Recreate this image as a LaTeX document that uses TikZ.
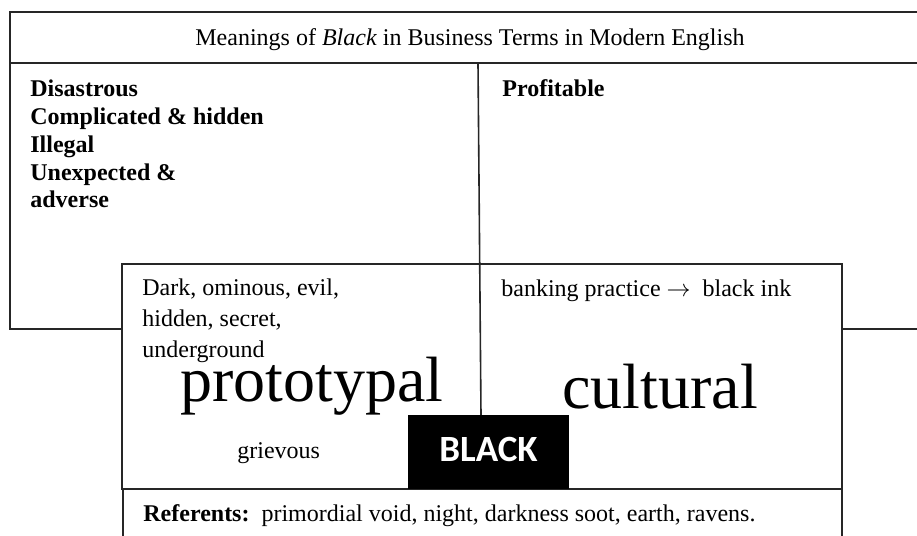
\documentclass[tikz,border=0pt]{standalone}
\usepackage{fontspec}
\setmainfont{Liberation Serif}
\newfontfamily\blackfont{Carlito}
\begin{document}
\begin{tikzpicture}[x=0.5pt,y=-0.5pt,
  frame/.style={draw=black!85, line width=0.8pt},
  txt/.style={inner sep=0pt, anchor=base west, font=\fontsize{12}{14}\selectfont},
  bld/.style={inner sep=0pt, anchor=base west, font=\fontsize{12}{14}\selectfont\bfseries},
  big/.style={inner sep=0pt, anchor=base west, font=\fontsize{32}{36}\selectfont},
  blk/.style={inner sep=0pt, anchor=base, text=white, font=\fontsize{18.5}{20}\selectfont\blackfont\bfseries}]
\useasboundingbox (0,0) rectangle (917,536);
\clip (0,0) rectangle (917,536);
% coordinates
\coordinate (otl) at (10,12);
\coordinate (otr) at (930,12);
\coordinate (ohl) at (10,63);
\coordinate (ohr) at (930,63);
\coordinate (obl) at (10,329);
\coordinate (obm) at (122,329);
\coordinate (obr1) at (842,329);
\coordinate (obr2) at (930,329);
\coordinate (dvt) at (478,63);
\coordinate (dvb) at (481,415);
\coordinate (itl) at (122,264);
\coordinate (itr) at (842,264);
\coordinate (ibl) at (122,489);
\coordinate (ibr) at (842,489);
\coordinate (rbl) at (123,545);
\coordinate (rtl) at (123,489);
\coordinate (rbr) at (842,545);
% outer box
\draw[frame] (otr) -- (otl) -- (obl) -- (obm);
\draw[frame] (ohl) -- (ohr);
\draw[frame] (obr1) -- (obr2);
\draw[frame] (dvt) -- (dvb);
% inner box
\draw[frame] (ibl) -- (itl) -- (itr) -- (ibr) -- cycle;
% referents box
\draw[frame] (rtl) -- (rbl);
\draw[frame] (ibr) -- (rbr);
% black box
\fill[black] (408,415) rectangle (569,489);
\node[blk] (black) at (488.5,461) {BLACK};
% texts
\node[txt, anchor=base] (title) at (470,45) {Meanings of \textit{Black} in Business Terms in Modern English};
\node[bld] (n1) at (30,96) {Disastrous};
\node[bld] (n2) at (30,124) {Complicated \& hidden};
\node[bld] (n3) at (30,152) {Illegal};
\node[bld] (n4) at (30,180) {Unexpected \&};
\node[bld] (n5) at (30,207) {adverse};
\node[bld] (prof) at (502,96) {Profitable};
\node[txt] (d1) at (142,295) {Dark, ominous, evil,};
\node[txt] (d2) at (142,326) {hidden, secret,};
\node[txt] (d3) at (142,357) {underground};
\node[txt] (bank) at (501,296) {banking practice $\rightarrow$\ \ black ink};
\node[big] (proto) at (180,401) {prototypal};
\node[big] (cult) at (562,408) {cultural};
\node[txt] (grie) at (237,458) {grievous};
\node[txt] (ref) at (143,521) {\textbf{Referents:}\ \ primordial void, night, darkness soot, earth, ravens.};
\end{tikzpicture}
\end{document}
